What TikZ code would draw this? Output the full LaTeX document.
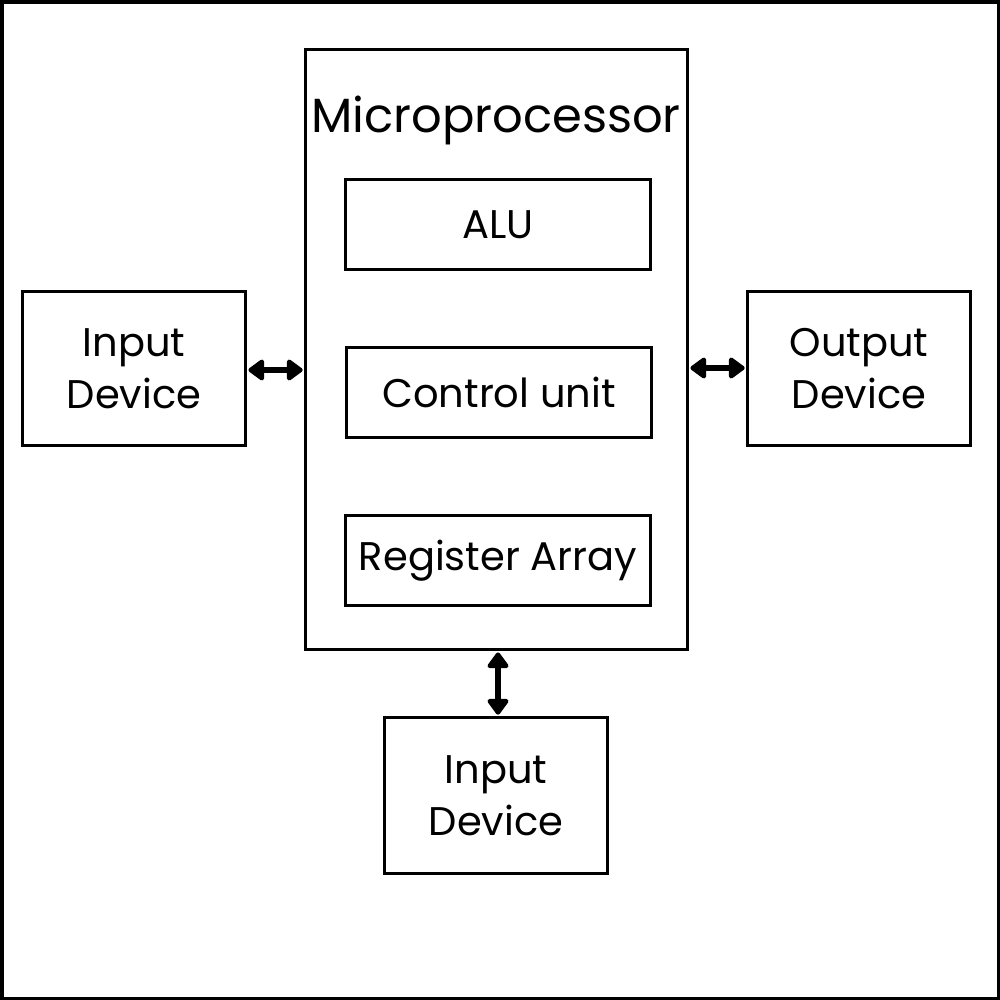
\documentclass[tikz,border=0pt]{standalone}
\usepackage{fontspec}
\setmainfont{Poppins}
\usetikzlibrary{arrows.meta}
\begin{document}
\begin{tikzpicture}[x=0.75pt,y=-0.75pt,
  box/.style={draw,line width=2.3pt,inner sep=0pt,anchor=north west,align=center,font=\fontsize{30}{39}\selectfont},
  conn/.style={line width=4pt,{Triangle[length=13pt,width=18pt,round]}-{Triangle[length=13pt,width=18pt,round]},shorten <=1pt,shorten >=1pt}]
\useasboundingbox (0,0) rectangle (1000,1000);
\draw[line width=3pt] (1.5,1.5) rectangle (998.5,998.5);
\node[box,minimum width=382*0.75pt,minimum height=600*0.75pt] (mp) at (304,48) {};
\node[font=\fontsize{36}{43}\selectfont] (mpt) at (496,120) {Microprocessor};
\node[box,minimum width=305*0.75pt,minimum height=90*0.75pt] (alu) at (344,178) {ALU};
\node[box,minimum width=305*0.75pt,minimum height=90*0.75pt] (cu) at (345,346) {Control unit};
\node[box,minimum width=305*0.75pt,minimum height=90*0.75pt] (ra) at (344,514) {Register Array};
\node[box,minimum width=223*0.75pt,minimum height=154*0.75pt] (in1) at (21,290) {Input\\Device};
\node[box,minimum width=223*0.75pt,minimum height=154*0.75pt] (out) at (746,290) {Output\\Device};
\node[box,minimum width=223*0.75pt,minimum height=156*0.75pt] (in2) at (383,716) {Input\\Device};
\draw[conn] (in1.east |- 0,370) -- (mp.west |- 0,370);
\draw[conn] (mp.east |- 0,368) -- (out.west |- 0,368);
\draw[conn] (mp.south -| 498,0) -- (in2.north -| 498,0);
\end{tikzpicture}
\end{document}
